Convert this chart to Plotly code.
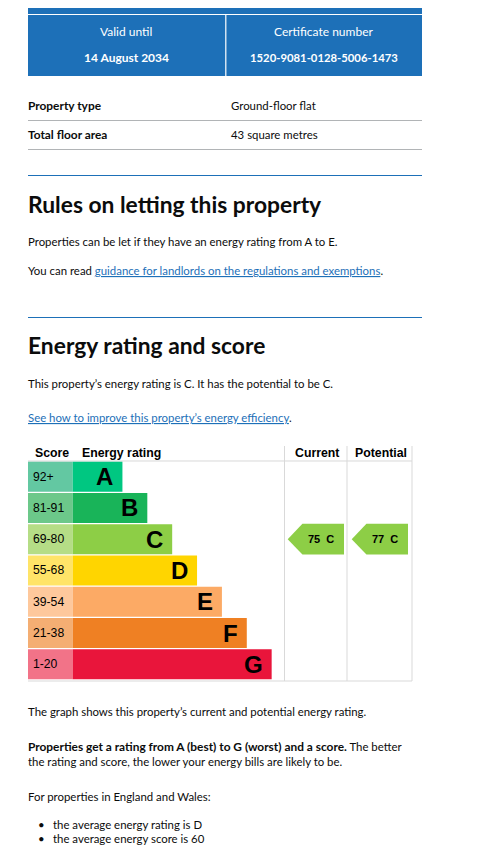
import plotly.graph_objects as go

# ---------------- data ----------------
bands = ["A", "B", "C", "D", "E", "F", "G"]
score_ranges = ["92+", "81-91", "69-80", "55-68", "39-54", "21-38", "1-20"]
bar_value = [2, 3, 4, 5, 6, 7, 8]
current_score = 75
current_band = "C"
potential_score = 77
potential_band = "C"
column_labels = ["Current", "Potential"]

# ---------------- styles ----------------
OFF = 8  # default page margin of the html body
W, H = 485 - OFF, 847 - OFF
BAR_COLORS = ["#00c781", "#19b459", "#8dce46", "#ffd500", "#fcaa65", "#ef8023", "#e9153b"]
SCORE_COLORS = ["#63c8a2", "#6cc88a", "#b5dd86", "#ffe468", "#fec89c", "#f4ae73", "#f27388"]
BLUE = "#1d70b8"
INK = "#0b0c0c"
GRID = "#d9d9d9"
PAGE_FONT = "Lato"
CHART_FONT = "Liberation Sans"
BODY = 11.4
BOLD = 11.9


def px(x):
    return (x - OFF) / W


def py(y):
    return 1 - (y - OFF) / H


def ann(**kw):
    kw.setdefault("showarrow", False)
    kw.setdefault("borderpad", 0)
    kw.setdefault("borderwidth", 0)
    fig.add_annotation(**kw)


rows = list(range(len(bands)))
X_MIN = -1.797
fig = go.Figure()

# score cells
fig.add_trace(go.Bar(
    y=rows, x=[-X_MIN] * len(rows), base=X_MIN, orientation="h",
    marker=dict(color=SCORE_COLORS, line=dict(width=0)), width=0.96,
    xaxis="x", yaxis="y", hoverinfo="skip", showlegend=False))
# rating bars
fig.add_trace(go.Bar(
    y=rows, x=bar_value, base=0, orientation="h",
    marker=dict(color=BAR_COLORS, line=dict(width=0)), width=0.96,
    xaxis="x", yaxis="y", hoverinfo="skip", showlegend=False))

# current / potential arrows
for col, (score, band) in enumerate([(current_score, current_band),
                                     (potential_score, potential_band)]):
    r = bands.index(band)
    c = col
    fig.add_trace(go.Scatter(
        x=[c + 0.05, c + 0.28, c + 0.93, c + 0.93, c + 0.28, c + 0.05],
        y=[r, r - 0.49, r - 0.49, r + 0.49, r + 0.49, r],
        fill="toself", fillcolor=BAR_COLORS[r], mode="lines",
        line=dict(width=0, color=BAR_COLORS[r]),
        xaxis="x2", yaxis="y", hoverinfo="skip", showlegend=False))
    ann(x=c + 0.57, y=r, xref="x2", yref="y",
        text=f"<b>{score}\u00a0\u00a0{band}</b>",
        font=dict(family=CHART_FONT, size=11, color="#000"),
        xanchor="center", yanchor="middle")

# band letters and score labels
for i, (b, s, v) in enumerate(zip(bands, score_ranges, bar_value)):
    ann(x=v - 0.36, y=i, xref="x", yref="y", text=f"<b>{b}</b>",
        xanchor="right", yanchor="middle",
        font=dict(family=CHART_FONT, size=24, color="#000"))
    ann(x=px(33), y=i, xref="paper", yref="y", text=s,
        xanchor="left", yanchor="middle",
        font=dict(family=CHART_FONT, size=12.2, color="#000"))

# chart header
HDR_Y = -0.74
for t, x in [("Score", 34.5), ("Energy rating", 82)]:
    ann(x=px(x), y=HDR_Y, xref="paper", yref="y", text=f"<b>{t}</b>",
        xanchor="left", yanchor="middle",
        font=dict(family=CHART_FONT, size=12.3, color="#000"))
for col, t in enumerate(column_labels):
    ann(x=col + 0.5, y=HDR_Y, xref="x2", yref="y", text=f"<b>{t}</b>",
        xanchor="center", yanchor="middle",
        font=dict(family=CHART_FONT, size=12.3, color="#000"))

shapes = []
# chart frame lines
shapes.append(dict(type="line", xref="paper", yref="y", x0=px(28), x1=px(412), y0=-0.5, y1=-0.5,
                   line=dict(color=GRID, width=1)))
shapes.append(dict(type="line", xref="paper", yref="paper", x0=px(28), x1=px(412), y0=py(681), y1=py(681),
                   line=dict(color=GRID, width=1)))
for xv in [284.5, 347, 412]:
    shapes.append(dict(type="line", xref="paper", yref="paper", x0=px(xv), x1=px(xv), y0=py(446), y1=py(681),
                       line=dict(color=GRID, width=1)))

# page header block
shapes.append(dict(type="rect", xref="paper", yref="paper", x0=px(28), x1=px(422), y0=py(76), y1=py(-20),
                   fillcolor=BLUE, line=dict(width=0), layer="below"))
shapes.append(dict(type="line", xref="paper", yref="paper", x0=px(28), x1=px(422), y0=py(14.5), y1=py(14.5),
                   line=dict(color="white", width=1.2)))
shapes.append(dict(type="line", xref="paper", yref="paper", x0=px(225.8), x1=px(225.8), y0=py(15), y1=py(76),
                   line=dict(color="white", width=1.2)))
# table lines
for yv in [120.5, 149.5]:
    shapes.append(dict(type="line", xref="paper", yref="paper", x0=px(28), x1=px(422), y0=py(yv), y1=py(yv),
                       line=dict(color="#b1b4b6", width=1)))
# section breaks
for yv in [175.5, 317.5]:
    shapes.append(dict(type="line", xref="paper", yref="paper", x0=px(28), x1=px(422), y0=py(yv), y1=py(yv),
                       line=dict(color=BLUE, width=1)))


def text(x, y, t, size=BODY, color=INK, anchor="left", family=PAGE_FONT):
    ann(x=px(x), y=py(y), xref="paper", yref="paper", text=t,
        xanchor=anchor, yanchor="middle",
        font=dict(family=family, size=size, color=color))


text(126, 32, "Valid until", 12, "white", "center")
text(126, 57.5, "<b>14 August 2034</b>", 12, "white", "center")
text(323, 32, "Certificate number", 12, "white", "center")
text(323.5, 57.5, "<b>1520-9081-0128-5006-1473</b>", 11.3, "white", "center")

text(28, 105, "<b>Property type</b>", BOLD)
text(231, 105, "Ground-floor flat")
text(28, 134, "<b>Total floor area</b>", BOLD)
text(231, 134, "43 square metres")

text(28, 204, "<b>Rules on letting this property</b>", 22.8)
text(28, 241.5, "Properties can be let if they have an energy rating from A to E.")
text(28, 270.5, f"You can read <span style='color:{BLUE}'><u>guidance for landlords on the regulations and exemptions</u></span>.")

text(28, 345, "<b>Energy rating and score</b>", 22.8)
text(28, 383.5, "This property\u2019s energy rating is C. It has the potential to be C.")
text(28, 417.5, f"<span style='color:{BLUE}'><u>See how to improve this property\u2019s energy efficiency</u></span>.")

text(28, 711.5, "The graph shows this property\u2019s current and potential energy rating.")
text(28, 746, f"<span style='font-size:{BOLD}px'><b>Properties get a rating from A (best) to G (worst) and a score.</b></span> The better")
text(28, 761, "the rating and score, the lower your energy bills are likely to be.")
text(28, 796.5, "For properties in England and Wales:")
text(41.5, 824, "\u2022", BODY, INK, "center")
text(53, 824, "the average energy rating is D")
text(41.5, 838.5, "\u2022", BODY, INK, "center")
text(53, 838.5, "the average energy score is 60")

fig.update_layout(
    width=W, height=H, margin=dict(l=0, r=0, t=0, b=0),
    paper_bgcolor="white", plot_bgcolor="rgba(0,0,0,0)",
    barmode="overlay", shapes=shapes,
    xaxis=dict(domain=[px(28), px(284.5)], range=[X_MIN, (284.5 - 72.7) / 24.87],
               visible=False, fixedrange=True),
    xaxis2=dict(domain=[px(284.5), px(412.5)], range=[0, 2], visible=False, fixedrange=True),
    yaxis=dict(domain=[py(681), py(446)], range=[6.532, -0.979], visible=False, fixedrange=True),
)

fig.write_html("out.html")
